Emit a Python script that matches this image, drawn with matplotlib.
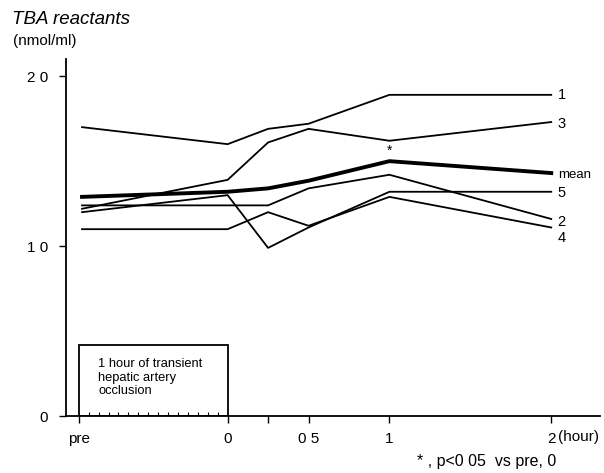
import numpy as np
import matplotlib.pyplot as plt
from matplotlib.patches import Rectangle

# time points (hours); "pre" sits left of the occlusion box
times = [-0.9, 0.0, 0.25, 0.5, 1.0, 2.0]
series = {
    '1': [17.0, 16.0, 16.9, 17.2, 18.9, 18.9],
    '2': [12.4, 12.4, 12.4, 13.4, 14.2, 11.6],
    '3': [12.2, 13.9, 16.1, 16.9, 16.2, 17.3],
    '4': [11.0, 11.0, 12.0, 11.2, 12.9, 11.1],
    '5': [12.0, 13.0, 9.9, 11.1, 13.2, 13.2],
}
mean = [12.9, 13.2, 13.4, 13.85, 15.0, 14.3]

label_y = {'1': 18.9, '3': 17.2, 'mean': 14.2, '5': 13.1, '2': 11.4, '4': 10.5}

xtick_pos = [-0.92, 0.0, 0.25, 0.5, 1.0, 2.0]
xtick_lab = ['pre', '0', '', '0 5', '1', '2']
ytick_pos = [0, 10, 20]
ytick_lab = ['0', '1 0', '2 0']

plt.rcParams['font.family'] = ['Liberation Sans', 'DejaVu Sans']

fig = plt.figure(figsize=(6.04, 4.73), dpi=100)
ax = fig.add_axes([0.109, 0.12, 0.884, 0.755])

for name, vals in series.items():
    ax.plot(times, vals, color='black', lw=1.3)
ax.plot(times, mean, color='black', lw=2.8)

for name, yv in label_y.items():
    ax.text(2.04, yv, name, fontsize=10.5 if name != 'mean' else 9.5,
            va='center', ha='left')

ax.text(1.0, 15.6, '*', fontsize=10, ha='center', va='center')

# occlusion box
ax.add_patch(Rectangle((-0.92, 0), 0.92, 4.2, fill=False, edgecolor='black', lw=1.3))
ax.text(-0.8, 3.4, '1 hour of transient\nhepatic artery\nocclusion',
        fontsize=9.3, va='top', ha='left', linespacing=1.15)

ax.set_xlim(-1.0, 2.3)
ax.set_ylim(0, 21)
ax.spines['top'].set_visible(False)
ax.spines['right'].set_visible(False)
ax.spines['left'].set_linewidth(1.3)
ax.spines['bottom'].set_linewidth(1.3)

ax.set_xticks(xtick_pos)
ax.set_xticklabels(xtick_lab, fontsize=11)
ax.set_xticks(np.linspace(-0.92, 0, 16)[1:-1], minor=True)
ax.tick_params(axis='x', which='minor', direction='in', length=3, width=0.8)
ax.tick_params(axis='x', which='major', direction='out', length=5, width=1, pad=6)
ax.set_yticks(ytick_pos)
ax.set_yticklabels(ytick_lab, fontsize=11)
ax.tick_params(axis='y', direction='out', length=5, width=1, pad=8)

ax.text(2.04, -0.8, '(hour)', fontsize=11, ha='left', va='top')

fig.text(0.02, 0.958, 'TBA reactants', fontsize=13.5, style='italic', va='center')
fig.text(0.021, 0.914, '(nmol/ml)', fontsize=11, va='center')
fig.text(0.69, 0.024, '* , p<0 05  vs pre, 0', fontsize=11.5, va='center')

fig.savefig('out.png', dpi=100)
